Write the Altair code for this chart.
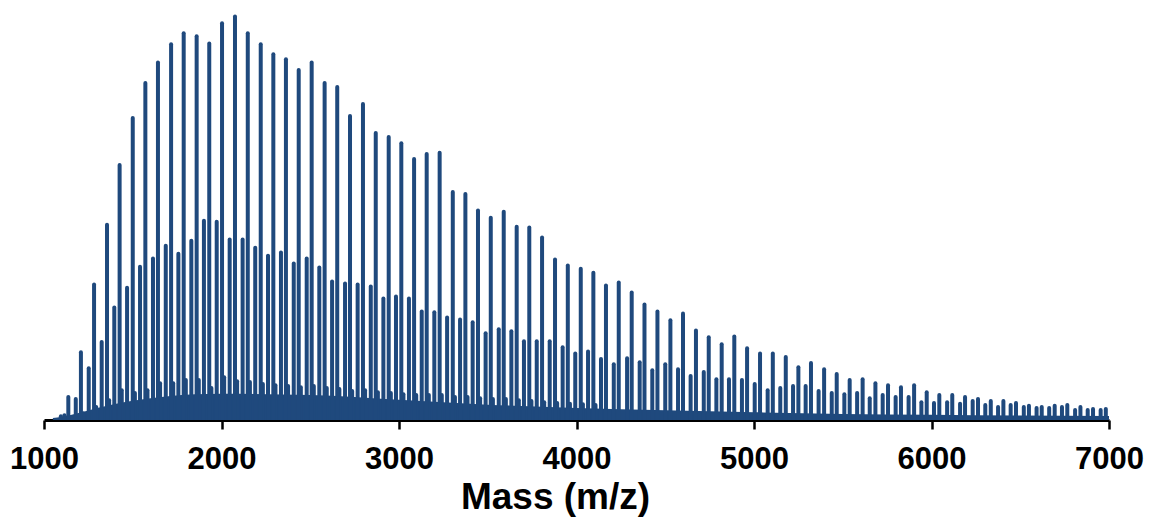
import altair as alt
import pandas as pd

# Main ion series (m/z, relative intensity %)
major_mz = [1137, 1208, 1282, 1355, 1426, 1500, 1571, 1642, 1716, 1787, 1860, 1931, 2003, 2076,
            2148, 2221, 2292, 2363, 2435, 2508, 2581, 2652, 2724, 2797, 2869, 2942, 3013, 3085,
            3156, 3229, 3303, 3374, 3445, 3517, 3590, 3663, 3734, 3806, 3879, 3951, 4024, 4095,
            4166, 4238, 4311, 4383, 4456, 4529, 4600, 4673, 4745, 4818, 4889, 4961, 5034, 5106,
            5179, 5250, 5321, 5395, 5466, 5539, 5612, 5684, 5755, 5828, 5902, 5973, 6044, 6117,
            6189, 6262, 6334, 6405, 6476, 6549, 6621, 6694, 6765, 6839, 6910, 6982]
major_int = [5.7, 16.8, 33.6, 48.4, 63.2, 74.8, 83.5, 88.6, 93.1, 95.8, 95.1, 93.3, 98.3, 100.0,
             95.8, 93.1, 90.6, 89.4, 86.7, 88.6, 83.5, 82.5, 75.3, 78.3, 71.1, 70.1, 68.6, 64.7,
             65.9, 66.2, 56.5, 56.0, 51.9, 50.1, 51.6, 47.9, 47.7, 45.2, 39.8, 38.3, 37.5, 36.5,
             33.3, 34.1, 31.6, 28.6, 26.9, 24.7, 26.4, 22.2, 20.5, 18.8, 20.7, 17.8, 16.5, 16.5,
             15.6, 13.1, 14.1, 12.6, 11.4, 9.9, 10.1, 9.1, 8.6, 8.1, 8.6, 6.9, 6.2, 6.2,
             5.7, 5.2, 4.7, 4.7, 4.2, 3.5, 3.2, 3.5, 3.7, 3.2, 2.7, 2.7]

# Second ion series
minor_mz = [1179, 1252, 1325, 1396, 1468, 1541, 1614, 1686, 1757, 1830, 1901, 1973, 2046, 2119,
            2190, 2262, 2335, 2407, 2480, 2551, 2623, 2696, 2767, 2841, 2912, 2983, 3056, 3128,
            3199, 3271, 3344, 3415, 3488, 3562, 3633, 3704, 3776, 3849, 3922, 3993, 4065, 4138,
            4210, 4285, 4356, 4427, 4500, 4572, 4643, 4717, 4788, 4859, 4932, 5004, 5077, 5148,
            5220, 5291, 5364, 5438, 5509, 5581, 5652, 5725, 5798, 5871, 5943, 6014, 6088, 6161,
            6232, 6303, 6375, 6446, 6520, 6592, 6663, 6735, 6809, 6880, 6953]
minor_int = [5.2, 12.8, 19.3, 27.9, 32.8, 38.0, 40.0, 43.2, 41.2, 44.4, 49.4, 49.1, 44.7, 44.7,
             42.7, 40.7, 41.5, 38.8, 40.0, 37.8, 34.3, 33.8, 33.6, 33.1, 30.1, 30.6, 30.1, 26.9,
             26.7, 25.4, 24.9, 24.2, 21.5, 22.5, 22.0, 19.5, 19.5, 19.5, 18.0, 16.5, 17.0, 15.1,
             13.8, 15.3, 14.3, 12.3, 13.8, 12.6, 10.9, 11.9, 10.1, 10.1, 9.9, 8.9, 7.4, 7.9,
             8.4, 8.4, 7.2, 6.7, 6.4, 6.7, 5.4, 6.2, 5.7, 5.7, 4.4, 4.2, 4.4, 4.0,
             4.7, 3.7, 3.2, 3.7, 3.2, 3.0, 3.0, 3.2, 2.5, 2.5, 2.5]

# Small satellite peaks beside the main series
sat_mz = [1095, 1115, 1220, 1294, 1367, 1438, 1512, 1583, 1654, 1728, 1799, 1872, 1943, 2015, 2088,
          2160, 2233, 2304, 2375, 2447, 2520, 2593, 2664, 2736, 2809, 2881, 2954, 3025, 3097,
          3168, 3241, 3315, 3386, 3457, 3529, 3602, 3675, 3746, 3818, 3891, 3963, 4036, 4107]
sat_int = [0.9, 1.2, 1.7, 3.2, 4.9, 7.4, 6.7, 7.4, 9.1, 9.1, 9.9, 9.9, 7.9, 10.6, 9.6,
           9.4, 8.9, 8.6, 8.4, 8.1, 8.4, 7.9, 7.7, 7.2, 7.4, 6.9, 6.7, 6.4, 6.2,
           6.2, 6.2, 5.7, 5.7, 5.4, 5.2, 5.2, 4.9, 4.7, 4.4, 4.2, 4.0, 3.9, 3.7]

# Unresolved baseline hump
floor_mz = [1050, 1100, 1200, 1300, 1500, 1700, 2000, 2500, 3000, 3500, 4000, 4500, 5000, 5500,
            6000, 6500, 7000]
floor_int = [0.5, 0.8, 1.8, 3.0, 4.8, 5.9, 6.5, 6.2, 5.0, 3.8, 3.0, 2.4, 1.9, 1.5,
             1.3, 1.1, 1.0]

COLOR = "#1F497D"
FONT = "Liberation Sans"

x_scale = alt.Scale(domain=[1000, 7000], nice=False, zero=False)
y_scale = alt.Scale(domain=[0, 100.6], nice=False)

df_major = pd.DataFrame({"mz": major_mz, "intensity": major_int})
df_minor = pd.DataFrame({"mz": minor_mz, "intensity": minor_int})
df_sat = pd.DataFrame({"mz": sat_mz, "intensity": sat_int})
df_floor = pd.DataFrame({"mz": floor_mz, "intensity": floor_int})

x_enc = alt.X("mz:Q", scale=x_scale, title="Mass (m/z)",
              axis=alt.Axis(values=[1000, 2000, 3000, 4000, 5000, 6000, 7000], format="d",
                            labelFlush=False, labelOverlap=False))
y_enc = alt.Y("intensity:Q", scale=y_scale, axis=None)

floor = alt.Chart(df_floor).mark_area(color=COLOR, clip=True, interpolate="monotone").encode(
    x=x_enc, y=y_enc)


def rules(df, width):
    return alt.Chart(df).mark_rule(color=COLOR, strokeWidth=width, strokeCap="round",
                                   clip=True).encode(x=x_enc, y=y_enc, y2=alt.datum(0))


chart = alt.layer(
    floor,
    rules(df_sat, 4),
    rules(df_minor, 4),
    rules(df_major, 4),
).properties(
    width=1065, height=406,
    autosize=alt.AutoSizeParams(type="none"),
    padding={"left": 44, "right": 42, "top": 14, "bottom": 103},
).configure_view(stroke=None).configure_axisX(
    grid=False,
    domainColor="black", domainWidth=3,
    tickColor="black", tickWidth=2.5, tickSize=9,
    labelFont=FONT, labelFontSize=31, labelFontWeight="bold", labelColor="black",
    labelPadding=15,
    titleFont=FONT, titleFontSize=37, titleFontWeight="bold", titleColor="black",
    titleX=511, titleY=88, titleBaseline="alphabetic", titleAlign="center",
)

chart.save("out.html", embed_options={"renderer": "svg", "actions": False})
